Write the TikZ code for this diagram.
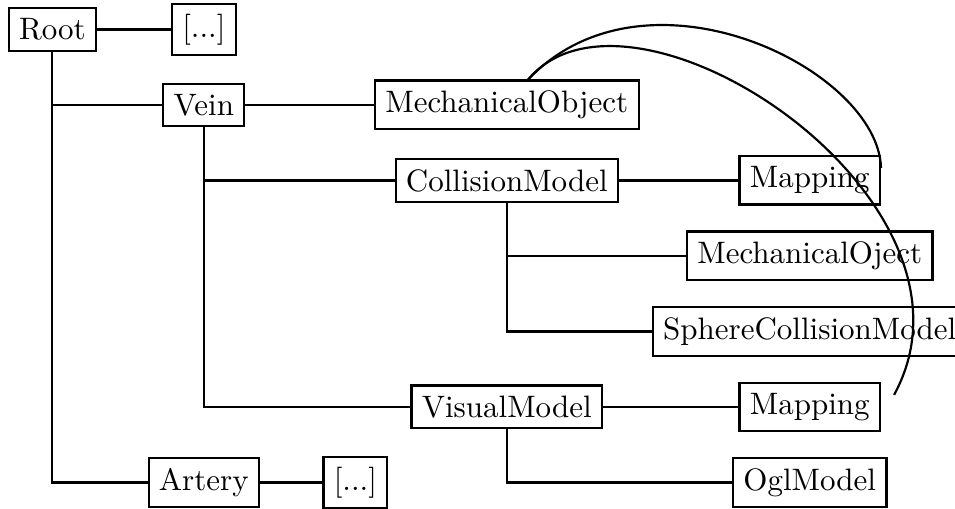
\documentclass[tikz,border=0pt]{standalone}
\usepackage{tikz}
\usetikzlibrary{positioning}

\begin{document}
\begin{tikzpicture}[
box/.style={draw,line width=0.7pt},
link/.style={line width=0.7pt},
on grid
]
\useasboundingbox (-16.9pt,9.5pt) rectangle (291.1pt,-154.4pt);
\node[box] (root) at (0,0) {Root};
\node[box,right=48.85pt of root] (more1) {[...]};
\node[box,below right=24.35pt and 48.85pt of root] (vein) {Vein};
\node[box,right=97.7pt of vein] (mechobj) {MechanicalObject};
\node[box,below=24.35pt of mechobj] (collision) {CollisionModel};
\node[box,right=97.7pt of collision] (colmap) {Mapping};
\node[box,below=24.35pt of colmap] (colmech) {MechanicalOject};
\node[box,below=24.35pt of colmech] (spheres) {SphereCollisionModel};
\node[box,below=73.05pt of collision] (visual) {VisualModel};
\node[box,right=97.7pt of visual] (vismap) {Mapping};
\node[box,below=24.35pt of vismap] (ogl) {OglModel};
\node[box,below=121.75pt of vein] (artery) {Artery};
\node[box,right=48.85pt of artery] (more2) {[...]};
% tree links
\draw[link] (root) -- (more1);
\draw[link] (root.south) |- (vein.west);
\draw[link] (root.south) |- (artery.west);
\draw[link] (vein) -- (mechobj);
\draw[link] (vein.south) |- (collision.west);
\draw[link] (vein.south) |- (visual.west);
\draw[link] (collision) -- (colmap);
\draw[link] (collision.south) |- (colmech.west);
\draw[link] (collision.south) |- (spheres.west);
\draw[link] (visual) -- (vismap);
\draw[link] (visual.south) |- (ogl.west);
\draw[link] (artery) -- (more2);
% mappings back to the mechanical state
\draw[link] (mechobj.50) .. controls +(38pt,40pt) and +(-1pt,32pt) .. (colmap.10);
\draw[link] (mechobj.50) .. controls +(33.2pt,39.7pt) and +(34.5pt,63.2pt) .. ([shift={(4.2pt,3.9pt)}]vismap.east);
\end{tikzpicture}
\end{document}
